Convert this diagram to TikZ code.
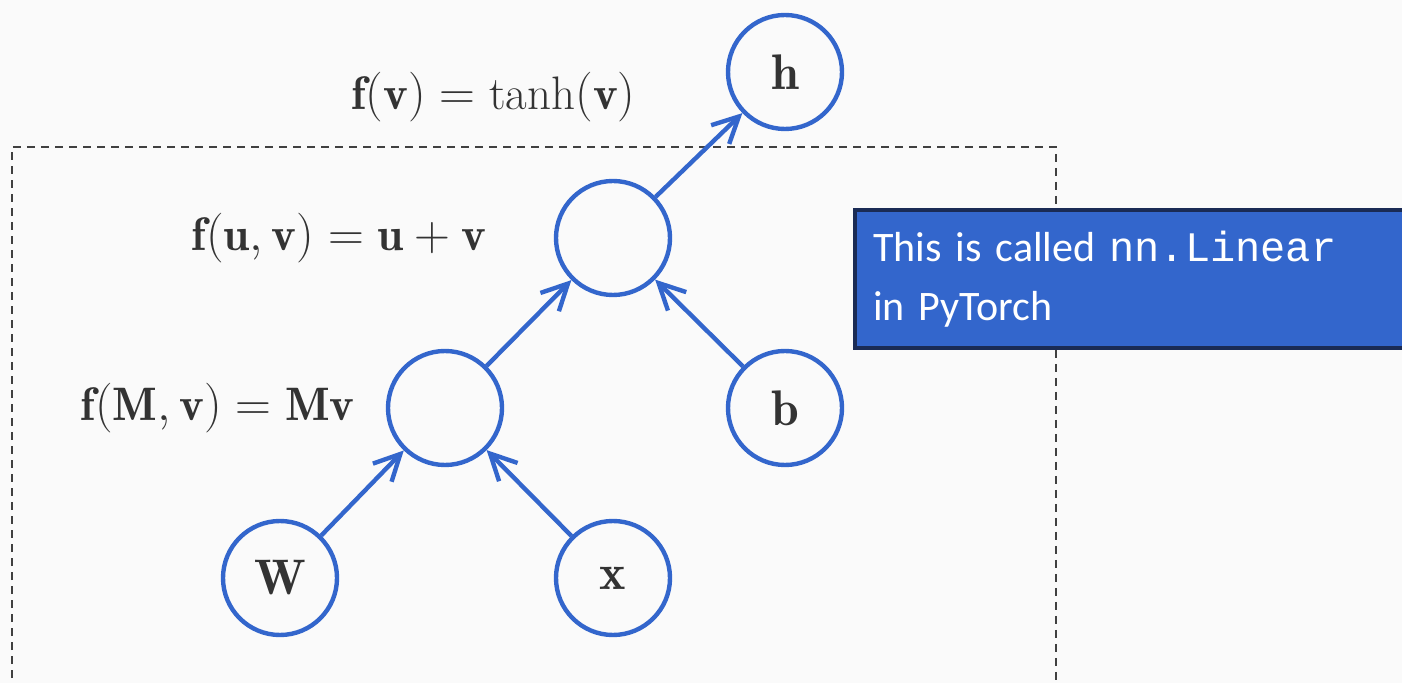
\documentclass[tikz,border=0pt]{standalone}
\usepackage{fontspec}
\usepackage{amsmath}
\newfontfamily\notefont{Carlito}
\newfontfamily\codefont{Liberation Mono}
\usetikzlibrary{
  arrows.meta,
  positioning
}
\definecolor{nodeblue}{HTML}{3366CC}
\definecolor{boxline}{HTML}{1A2B55}
\definecolor{bggray}{HTML}{FAFAFA}
\definecolor{framegray}{HTML}{404040}
\definecolor{labelgray}{HTML}{333333}

\begin{document}
\begin{tikzpicture}[
      x=0.5pt, y=-0.5pt,
      >={Straight Barb[length=13pt,width=13pt]},
      vertex/.style={circle, draw=nodeblue, line width=2.2pt, minimum size=57pt, inner sep=0pt, font=\fontsize{25}{30}\selectfont, text=labelgray},
      seta/.style={->, line width=2.2pt, nodeblue},
      rotulo/.style={anchor=east, inner sep=0pt, font=\fontsize{23.5}{28}\selectfont, text=labelgray},
      note/.style={draw=boxline, fill=nodeblue, line width=2pt, text=white, align=left, text width=300pt, minimum height=69pt, inner xsep=9pt, font=\notefont\fontsize{21}{29.5}\selectfont},
      frame/.style={draw=framegray, line width=1pt, dash pattern=on 4pt off 3pt}
  ]
      % Fundo e moldura
      \useasboundingbox (0,0) rectangle (1402,683);
      \fill[bggray] (0,0) rectangle (1402,683);
      \draw[frame] (12,720) -- (12,147) -- (1056,147) -- (1056,720);

      % Vertices do grafo
      \node[vertex] (h) at (785,72) {$\mathbf{h}$};
      \node[vertex] (sum) at (613,238) {};
      \node[vertex] (mul) at (445,408) {};
      \node[vertex] (b) at (785,408) {$\mathbf{b}$};
      \node[vertex] (W) at (280,578) {$\mathbf{W}$};
      \node[vertex] (x) at (613,578) {$\mathbf{x}$};

      % Arestas
      \draw[seta] (W) -- (mul);
      \draw[seta] (x) -- (mul);
      \draw[seta] (mul) -- (sum);
      \draw[seta] (b) -- (sum);
      \draw[seta] (sum) -- (h);

      % Funcoes
      \node[rotulo] (ftanh) at (636,97) {$\mathbf{f}(\mathbf{v}) = \tanh(\mathbf{v})$};
      \node[rotulo] (fsum) at (487,238) {$\mathbf{f}(\mathbf{u},\mathbf{v}) = \mathbf{u} + \mathbf{v}$};
      \node[rotulo] (fmul) at (355,408) {$\mathbf{f}(\mathbf{M},\mathbf{v}) = \mathbf{Mv}$};

      % Caixa de nota
      \node[note, anchor=north west] (nota) at (853,208) {This is called {\codefont nn.Linear}\\in PyTorch};
  \end{tikzpicture}
\end{document}
